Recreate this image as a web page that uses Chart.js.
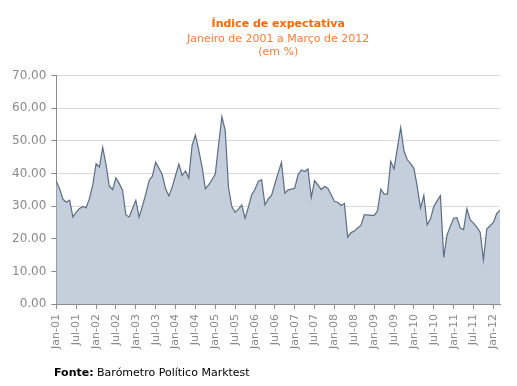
<!DOCTYPE html>
<html>
<head>
<meta charset="utf-8">
<script src="https://cdn.jsdelivr.net/npm/chart.js@4"></script>
<style>
  html, body { margin: 0; padding: 0; background: #fff; }
  #wrap { position: relative; width: 517px; height: 386px; }
</style>
</head>
<body>
<div id="wrap"><canvas id="grafico" width="517" height="386"></canvas></div>
<script>
// ===== DADOS =====
const meses = ['Jan', 'Feb', 'Mar', 'Apr', 'May', 'Jun', 'Jul', 'Aug', 'Sep', 'Oct', 'Nov', 'Dec']
const anos = ['01', '02', '03', '04', '05', '06', '07', '08', '09', '10', '11', '12']
const ultimoMes = 3 // Março de 2012

// Índice de expectativa, um valor por mês (Jan-01 ... Mar-12)
const valores = [
  37.6, 35.3, 32.1, 31.2, 31.8, 26.7, 28.2, 29.3, 29.9, 29.5, 32.4, 36.5, // 2001
  43.0, 42.0, 48.0, 42.7, 36.1, 35.1, 38.7, 36.9, 34.9, 27.3, 26.7, 29.2, // 2002
  31.8, 26.7, 30.0, 33.7, 37.8, 39.2, 43.5, 41.6, 39.6, 35.3, 33.1, 35.9, // 2003
  39.4, 42.9, 39.4, 40.8, 38.6, 48.6, 51.8, 47.2, 42.1, 35.3, 36.5, 38.1, // 2004
  39.8, 48.8, 57.4, 53.2, 35.7, 29.9, 28.1, 29.1, 30.4, 26.3, 29.7, 33.5, // 2005
  35.2, 37.6, 38.1, 30.4, 32.2, 33.3, 36.8, 40.2, 43.4, 34.0, 35.0, 35.2, // 2006
  35.5, 39.6, 41.1, 40.6, 41.4, 32.7, 37.8, 36.5, 35.1, 36.0, 35.5, 33.5, // 2007
  31.4, 31.2, 30.2, 30.8, 20.5, 21.9, 22.4, 23.3, 24.1, 27.3, 27.3, 27.2, // 2008
  27.2, 28.6, 35.2, 33.7, 33.7, 43.7, 41.4, 47.8, 54.1, 46.9, 44.2, 43.0, // 2009
  41.6, 36.0, 29.4, 33.3, 24.3, 26.1, 29.9, 31.6, 33.2, 14.3, 21.2, 23.8, // 2010
  26.3, 26.5, 23.3, 22.8, 29.2, 25.8, 24.8, 23.6, 22.0, 13.6, 23.0, 24.0, // 2011
  25.0, 27.7, 28.8, // 2012
]

const etiquetas = []
anos.forEach((ano, a) => {
  meses.forEach((mes, m) => {
    if (a === anos.length - 1 && m >= ultimoMes) return
    etiquetas.push(`${mes}-${ano}`)
  })
})

// Eixo Y
const yMin = 0
const yMax = 70
const yPasso = 10

const titulo = 'Índice de expectativa'
const subtitulo = ['Janeiro de 2001 a Março de 2012', '(em %)']
const fonteRotulo = 'Fonte:'
const fonteTexto = ' Barómetro Político Marktest'

// ===== ESTILOS =====
const fonte = "'DejaVu Sans', Verdana, sans-serif"
const laranja = '#ff6600'
const cinzaTexto = '#8a8a8a'
const cinzaEixo = '#8c8c8c'

// ===== RODAPÉ =====
const rodapePlugin = {
  id: 'rodape',
  afterDraw(chart) {
    const ctx = chart.ctx
    ctx.save()
    ctx.fillStyle = '#000'
    ctx.textBaseline = 'middle'
    ctx.font = `bold 11px ${fonte}`
    ctx.fillText(fonteRotulo, 54, 373)
    const w = ctx.measureText(fonteRotulo).width
    ctx.font = `11px ${fonte}`
    ctx.fillText(fonteTexto, 54 + w, 373)
    ctx.restore()
  },
}

// ===== GRÁFICO =====
const ctx = document.getElementById('grafico')
new Chart(ctx, {
  type: 'line',
  data: {
    labels: etiquetas,
    datasets: [
      {
        data: valores,
        borderColor: '#5a6d87',
        borderWidth: 1.2,
        backgroundColor: '#c5cedb',
        fill: 'origin',
        pointRadius: 0,
        tension: 0,
      },
    ],
  },
  options: {
    responsive: false,
    animation: false,
    devicePixelRatio: 1,
    layout: { padding: { left: 7, right: 17, top: 0, bottom: 32 } },
    plugins: {
      legend: { display: false },
      tooltip: { enabled: false },
      title: {
        display: true,
        fullSize: false, // centrado sobre a área do gráfico
        text: titulo,
        color: laranja,
        font: { family: fonte, size: 11, weight: 'bold' },
        padding: { top: 18, bottom: 1 },
      },
      subtitle: {
        display: true,
        fullSize: false,
        text: subtitulo,
        color: '#ff7a33',
        font: { family: fonte, size: 11 },
        padding: { top: 0, bottom: 17 },
      },
    },
    scales: {
      x: {
        offset: false,
        grid: {
          drawOnChartArea: false,
          drawTicks: true,
          tickLength: 5,
          tickColor: cinzaEixo,
        },
        border: { color: cinzaEixo, width: 1 },
        ticks: {
          autoSkip: false,
          maxRotation: 90,
          minRotation: 90,
          padding: 5,
          color: cinzaTexto,
          font: { family: fonte, size: 11 },
          callback: function (value, index) {
            const lbl = etiquetas[index]
            return lbl.startsWith('Jan') || lbl.startsWith('Jul') ? lbl : null
          },
        },
      },
      y: {
        min: yMin,
        max: yMax,
        grid: {
          color: '#d9d9d9',
          tickColor: cinzaEixo,
          tickLength: 5,
        },
        border: { color: cinzaEixo, width: 1 },
        ticks: {
          stepSize: yPasso,
          padding: 5,
          color: cinzaTexto,
          font: { family: fonte, size: 12 },
          callback: (v) => v.toFixed(2),
        },
      },
    },
  },
  plugins: [rodapePlugin],
})
</script>
</body>
</html>
